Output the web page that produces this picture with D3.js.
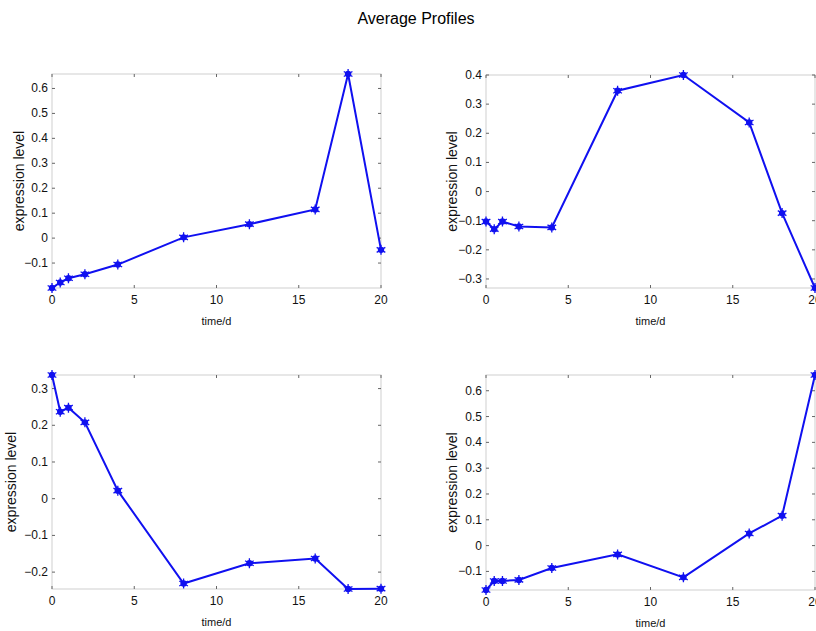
<!DOCTYPE html>
<html>
<head>
<meta charset="utf-8">
<script src="https://cdn.jsdelivr.net/npm/d3@7"></script>
<style>
  body { margin: 0; background: #fff; }
  svg { display: block; font-family: "Liberation Sans", Arial, sans-serif; }
</style>
</head>
<body>
<div id="chart"></div>
<script>
// Sampling times (days)
const times = [0, 0.5, 1, 2, 4, 8, 12, 16, 18, 20];

// Average profile of each cluster
const profile1 = [-0.200, -0.178, -0.161, -0.145, -0.106, 0.003, 0.056, 0.115, 0.658, -0.047];
const profile2 = [-0.103, -0.129, -0.103, -0.120, -0.123, 0.346, 0.400, 0.237, -0.074, -0.331];
const profile3 = [0.337, 0.237, 0.248, 0.208, 0.022, -0.231, -0.176, -0.163, -0.246, -0.245];
const profile4 = [-0.172, -0.137, -0.137, -0.133, -0.087, -0.034, -0.123, 0.047, 0.116, 0.661];

// Tick labels
const xTicks = [0, 5, 10, 15, 20];
const yTicks1 = [-0.1, 0, 0.1, 0.2, 0.3, 0.4, 0.5, 0.6];
const yTicks2 = [-0.3, -0.2, -0.1, 0, 0.1, 0.2, 0.3, 0.4];
const yTicks3 = [-0.2, -0.1, 0, 0.1, 0.2, 0.3];
const yTicks4 = [-0.1, 0, 0.1, 0.2, 0.3, 0.4, 0.5, 0.6];

const width = 816, height = 631;
const svg = d3.select("#chart").append("svg")
    .attr("width", width)
    .attr("height", height);

svg.append("text")
    .attr("x", 416)
    .attr("y", 24)
    .attr("text-anchor", "middle")
    .style("font-size", "16px")
    .text("Average Profiles");

// panel boxes (left, top, right, bottom) and y-label position
const panels = [
    { values: profile1, yTicks: yTicks1, box: [52, 74, 381, 288], labelX: 19 },
    { values: profile2, yTicks: yTicks2, box: [486, 75, 815, 288], labelX: 452 },
    { values: profile3, yTicks: yTicks3, box: [52, 375, 381, 589], labelX: 11 },
    { values: profile4, yTicks: yTicks4, box: [486, 375, 815, 590], labelX: 452 }
];

const fmt = d => d === 0 ? "0" : d3.format(".1f")(d);

function drawPanel(p) {
    const [x0, y0, x1, y1] = p.box;
    const x = d3.scaleLinear().domain([0, 20]).range([x0, x1]);
    const y = d3.scaleLinear().domain(d3.extent(p.values)).range([y1, y0]);

    const g = svg.append("g");

    // axes box
    g.append("rect")
        .attr("x", x0).attr("y", y0)
        .attr("width", x1 - x0).attr("height", y1 - y0)
        .attr("fill", "none")
        .attr("stroke", "#cfcfcf")
        .attr("stroke-width", 1);

    // ticks inside the box on all four sides
    xTicks.forEach(t => {
        g.append("line").attr("x1", x(t)).attr("x2", x(t)).attr("y1", y1).attr("y2", y1 - 3)
            .attr("stroke", "#666");
        g.append("line").attr("x1", x(t)).attr("x2", x(t)).attr("y1", y0).attr("y2", y0 + 3)
            .attr("stroke", "#666");
        g.append("text")
            .attr("x", x(t)).attr("y", y1 + 16)
            .attr("text-anchor", "middle")
            .style("font-size", "12px")
            .attr("fill", "#111")
            .text(t);
    });
    p.yTicks.forEach(t => {
        g.append("line").attr("x1", x0).attr("x2", x0 + 3).attr("y1", y(t)).attr("y2", y(t))
            .attr("stroke", "#666");
        g.append("line").attr("x1", x1).attr("x2", x1 - 3).attr("y1", y(t)).attr("y2", y(t))
            .attr("stroke", "#666");
        g.append("text")
            .attr("x", x0 - 4).attr("y", y(t) + 4)
            .attr("text-anchor", "end")
            .style("font-size", "12px")
            .attr("fill", "#111")
            .text(fmt(t));
    });

    // axis labels
    g.append("text")
        .attr("transform", `translate(${p.labelX}, ${(y0 + y1) / 2}) rotate(-90)`)
        .attr("text-anchor", "middle")
        .attr("dy", "0.35em")
        .style("font-size", "14px")
        .attr("fill", "#111")
        .text("expression level");

    g.append("text")
        .attr("x", (x0 + x1) / 2).attr("y", y1 + 37)
        .attr("text-anchor", "middle")
        .style("font-size", "11px")
        .attr("fill", "#111")
        .text("time/d");

    const pts = times.map((t, i) => ({ t: t, v: p.values[i] }));

    const line = d3.line().x(d => x(d.t)).y(d => y(d.v));
    g.append("path")
        .datum(pts)
        .attr("d", line)
        .attr("fill", "none")
        .attr("stroke", "#1010f0")
        .attr("stroke-width", 2);

    // '*' markers
    const star = d3.symbol().type(d3.symbolAsterisk || d3.symbolCross).size(70);
    g.selectAll(".dot")
        .data(pts)
        .enter()
        .append("circle")
        .attr("cx", d => x(d.t)).attr("cy", d => y(d.v))
        .attr("r", 3.2)
        .attr("fill", "#1010f0");
    g.selectAll(".star")
        .data(pts)
        .enter()
        .append("path")
        .attr("d", star)
        .attr("transform", d => `translate(${x(d.t)}, ${y(d.v)})`)
        .attr("fill", "none")
        .attr("stroke", "#1010f0")
        .attr("stroke-width", 1.3);
}

panels.forEach(drawPanel);
</script>
</body>
</html>
